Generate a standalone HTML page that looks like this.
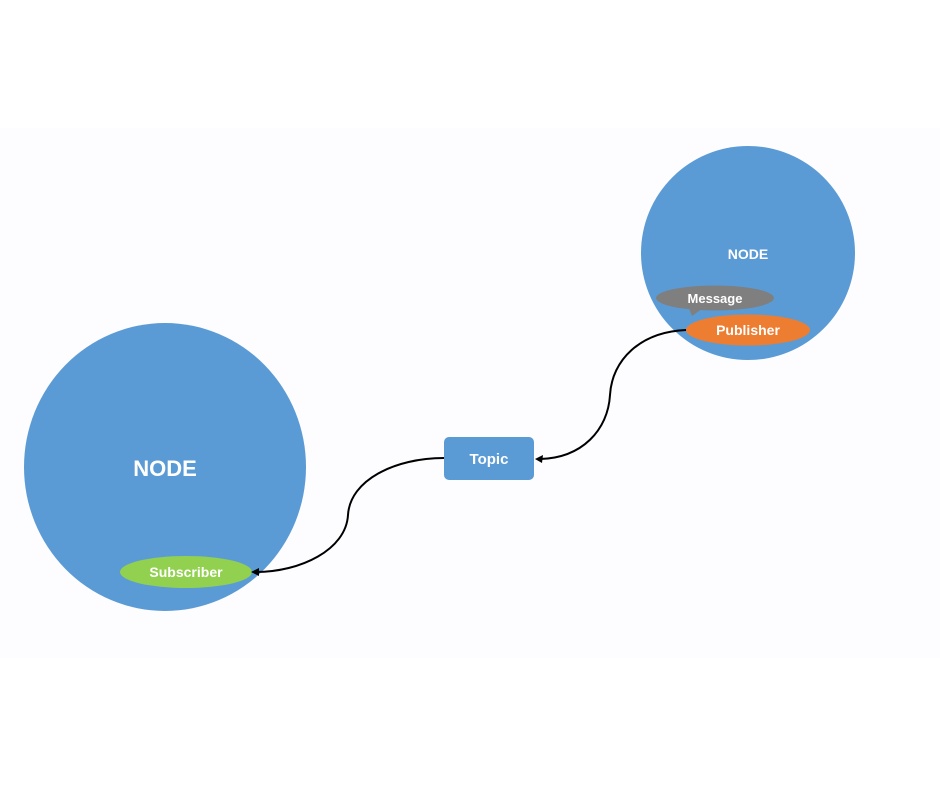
<!DOCTYPE html>
<html><head><meta charset="utf-8"><style>
html,body{margin:0;padding:0;background:#fff;width:940px;height:788px;overflow:hidden}
</style></head><body>
<svg width="940" height="788" viewBox="0 0 940 788" xmlns="http://www.w3.org/2000/svg" font-family="Liberation Sans, sans-serif" font-weight="bold">
<rect x="0" y="0" width="940" height="788" fill="#ffffff"/>
<rect x="0" y="128" width="940" height="530" fill="#fdfcfe"/>
<circle cx="748" cy="253" r="107" fill="#5b9bd5"/>
<ellipse cx="165" cy="467" rx="141" ry="144" fill="#5b9bd5"/>
<text x="748" y="259" fill="#fff" font-size="14" text-anchor="middle">NODE</text>
<text x="165" y="476" fill="#fff" font-size="22" text-anchor="middle">NODE</text>
<ellipse cx="715" cy="298" rx="59" ry="12.5" fill="#7f7f7f"/>
<path d="M688,306 L692,316 L702,309 Z" fill="#7f7f7f"/>
<text x="715" y="303" fill="#fff" font-size="13" text-anchor="middle">Message</text>
<ellipse cx="748" cy="330" rx="62" ry="15.5" fill="#ed7d31"/>
<text x="748" y="335" fill="#fff" font-size="14" text-anchor="middle">Publisher</text>
<ellipse cx="186" cy="572" rx="66" ry="16" fill="#92d050"/>
<text x="186" y="577" fill="#fff" font-size="14" text-anchor="middle">Subscriber</text>
<rect x="444" y="437" width="90" height="43" rx="5" fill="#5b9bd5"/>
<text x="489" y="464" fill="#fff" font-size="15" text-anchor="middle">Topic</text>
<path d="M686,330 C640,332 612,360 610,395 C608,430 582,458 540,459" fill="none" stroke="#000" stroke-width="2"/>
<path d="M535,459 L543,455 L542,463 Z" fill="#000"/>
<path d="M444,458 C395,458 350,480 348,515 C346,550 300,572 256,572" fill="none" stroke="#000" stroke-width="2"/>
<path d="M251,572 L259,568 L259,576 Z" fill="#000"/>
</svg>
</body></html>
